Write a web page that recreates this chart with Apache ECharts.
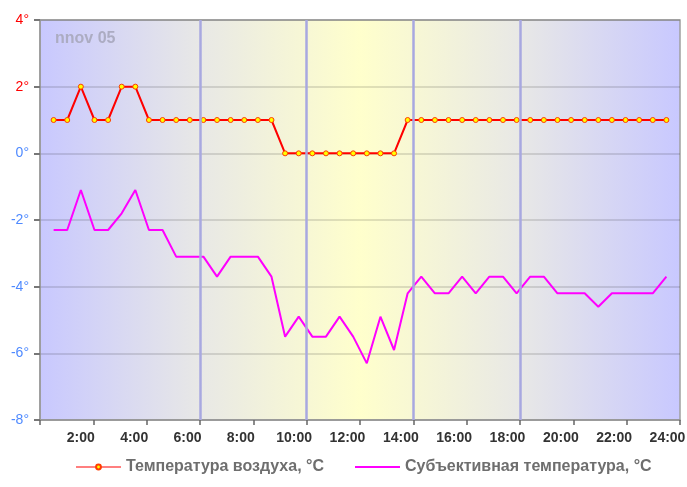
<!DOCTYPE html>
<html><head><meta charset="utf-8">
<script src="https://cdn.jsdelivr.net/npm/echarts@6/dist/echarts.min.js"></script>
<style>html,body{margin:0;padding:0;background:#fff}#c{width:687px;height:487px}</style>
</head><body><div id="c"></div>
<script>
const seriesNames = ['Температура воздуха, °C', 'Субъективная температура, °C'];
const times = ['0:30','1:00','1:30','2:00','2:30','3:00','3:30','4:00','4:30','5:00','5:30','6:00','6:30','7:00','7:30','8:00','8:30','9:00','9:30','10:00','10:30','11:00','11:30','12:00','12:30','13:00','13:30','14:00','14:30','15:00','15:30','16:00','16:30','17:00','17:30','18:00','18:30','19:00','19:30','20:00','20:30','21:00','21:30','22:00','22:30','23:00'];
const airTemp = [1,1,2,1,1,2,2,1,1,1,1,1,1,1,1,1,1,0,0,0,0,0,0,0,0,0,1,1,1,1,1,1,1,1,1,1,1,1,1,1,1,1,1,1,1,1];
const feelsLike = [-2.3,-2.3,-1.1,-2.3,-2.3,-1.8,-1.1,-2.3,-2.3,-3.1,-3.1,-3.1,-3.7,-3.1,-3.1,-3.1,-3.7,-5.5,-4.9,-5.5,-5.5,-4.9,-5.5,-6.3,-4.9,-5.9,-4.2,-3.7,-4.2,-4.2,-3.7,-4.2,-3.7,-3.7,-4.2,-3.7,-3.7,-4.2,-4.2,-4.2,-4.6,-4.2,-4.2,-4.2,-4.2,-3.7];
const xTickLabels = ['2:00','4:00','6:00','8:00','10:00','12:00','14:00','16:00','18:00','20:00','22:00','24:00'];
const markHours = [6, 10, 14, 18];
const titleText = 'nnov 05';

const FF = '"Liberation Sans", Arial, sans-serif';
function toHours(s){ const p = s.split(':'); return +p[0] + (+p[1])/60; }

const chart = echarts.init(document.getElementById('c'), null, {renderer:'canvas'});
chart.setOption({
  animation: false,
  grid: {
    left: 40, right: 7, top: 20, bottom: 67,
    show: true, borderColor: '#a0a0a0', borderWidth: 1.5,
    outerBoundsMode: 'none',
    backgroundColor: new echarts.graphic.LinearGradient(0,0,1,0,[
      {offset:0, color:'#c8c8ff'},
      {offset:0.25, color:'#e8e8e6'},
      {offset:0.5, color:'#ffffcc'},
      {offset:0.75, color:'#e8e8e6'},
      {offset:1, color:'#c8c8ff'}
    ])
  },
  graphic: [{
    type:'text', left: 55, top: 31, z: 0,
    style: {text: titleText, fill:'#acacc2', font: 'bold 16px ' + FF}
  }],
  legend: {
    left: 75, top: 459, padding: 0, itemWidth: 45, itemHeight: 6, itemGap: 31,
    textStyle: {fontSize: 16, fontWeight: 'bold', color: '#6e6e6e', fontFamily: FF},
    data: [
      {name: seriesNames[0], lineStyle: {color:'#ff7f7f', width: 2}},
      {name: seriesNames[1], icon: 'path://M0,0H45V2H0Z', itemStyle: {color:'#ff00ff'}}
    ]
  },
  xAxis: [
    {type:'value', min:0, max:23.5, show:false, position:'bottom'},
    {type:'value', min:0, max:24, interval:2, position:'bottom',
      axisLine:{show:true, lineStyle:{color:'#999', width:1.5}},
      axisTick:{show:true, length:5, lineStyle:{color:'#666', width:1.5}},
      splitLine:{show:false},
      axisLabel:{
        margin: 11,
        formatter: v => v === 0 ? '' : '{a|' + xTickLabels[v/2 - 1] + '}',
        rich: {a: {padding:[0,25,0,0], fontSize:14, fontWeight:'bold', color:'#333', fontFamily: FF}}
      }
    }
  ],
  yAxis: {
    type:'value', min:-8, max:4, interval:2,
    axisLine:{show:true, lineStyle:{color:'#999', width:1.5}},
    axisTick:{show:true, length:6, lineStyle:{color:'#777', width:2}},
    splitLine:{show:true, lineStyle:{color:'rgba(0,0,0,0.16)', width:1.5}},
    axisLabel:{
      margin: 11,
      formatter: v => (v > 0 ? '{r|' : '{b|') + v + '°}',
      rich: {
        r: {color:'#ff0000', fontSize:14, fontFamily: FF},
        b: {color:'#4f8aff', fontSize:14, fontFamily: FF}
      }
    }
  },
  series: [
    {
      name: '', type:'line', xAxisIndex:1, data: [], z: 1, silent: true,
      markLine: {
        silent: true, symbol: 'none', label: {show:false},
        lineStyle: {color:'#a8a8e0', width:2.5, type:'solid'},
        data: markHours.map(h => ({xAxis: h}))
      }
    },
    {
      name: seriesNames[1], type:'line', xAxisIndex:0, z: 3,
      data: times.map((t,i) => [toHours(t), feelsLike[i]]),
      symbol:'none', lineStyle:{color:'#ff00ff', width:2}, itemStyle:{color:'#ff00ff'}
    },
    {
      name: seriesNames[0], type:'line', xAxisIndex:0, z: 4,
      data: times.map((t,i) => [toHours(t), airTemp[i]]),
      symbol:'circle', symbolSize:5, showAllSymbol:true,
      lineStyle:{color:'#ff0000', width:2},
      itemStyle:{color:'#ffff00', borderColor:'#ff3c00', borderWidth:1}
    }
  ]
});
</script></body></html>
